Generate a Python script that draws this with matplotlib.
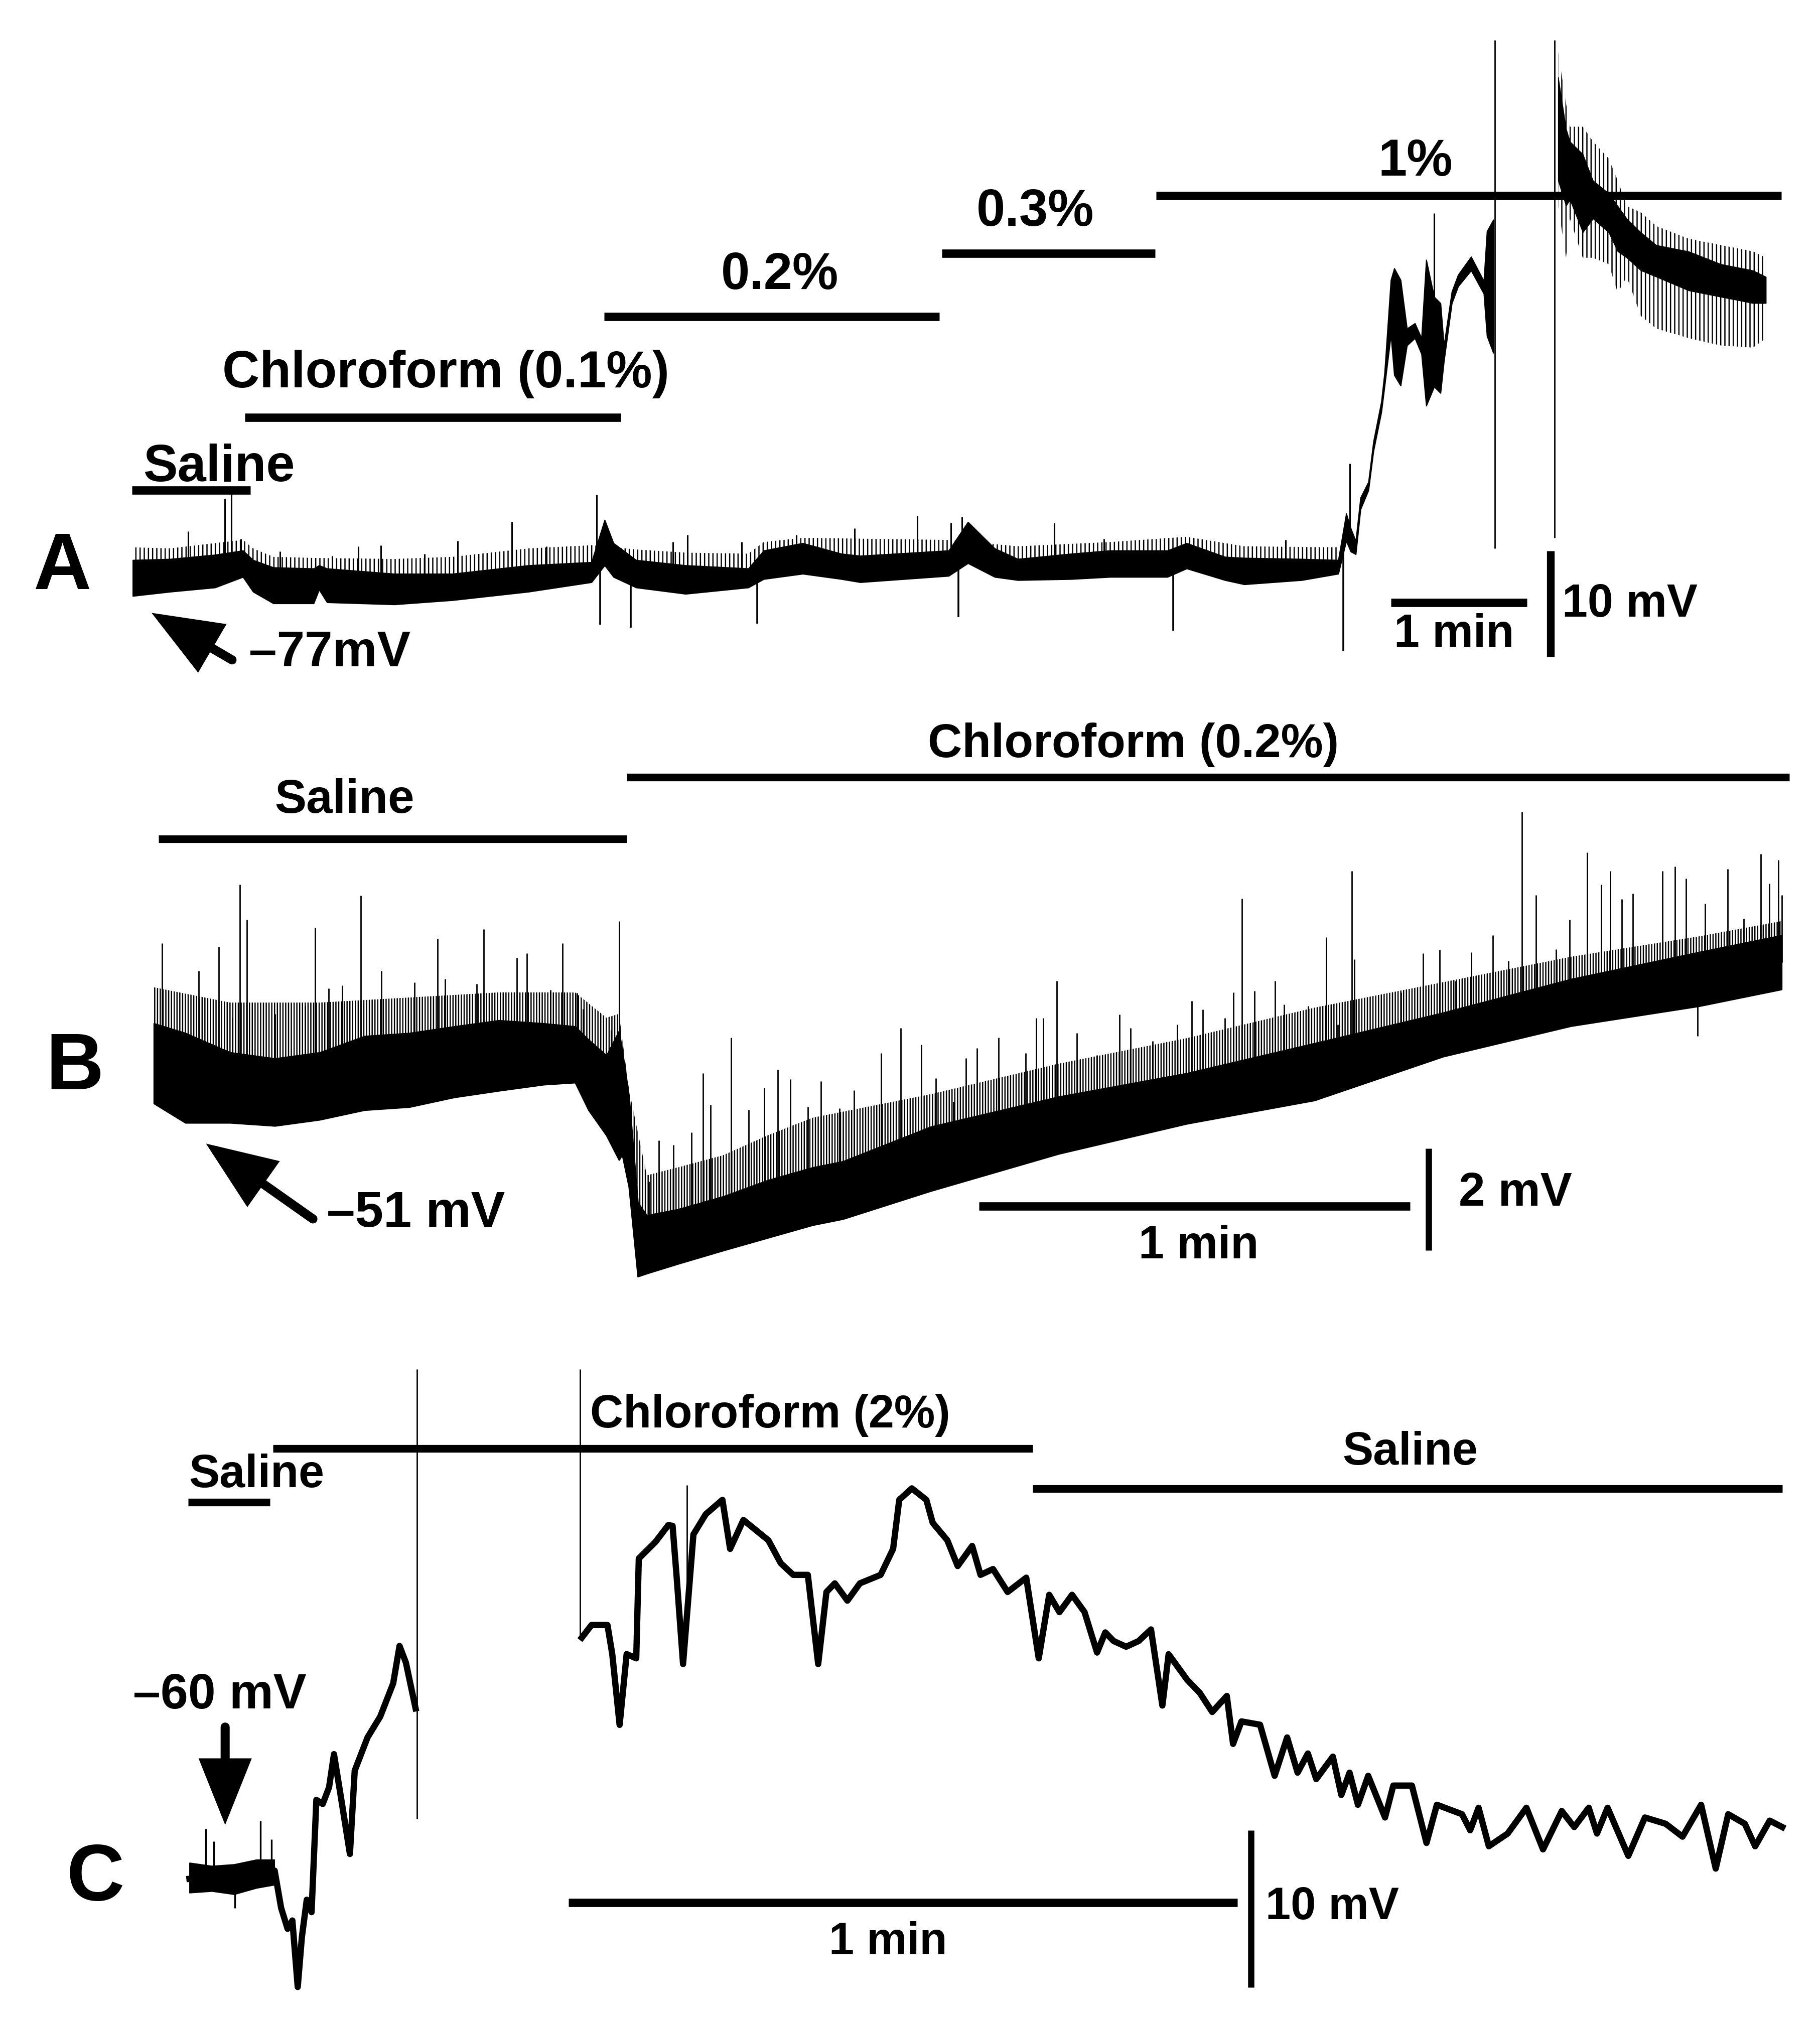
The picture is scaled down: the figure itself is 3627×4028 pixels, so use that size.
import numpy as np
import matplotlib
matplotlib.use("Agg")
import matplotlib.pyplot as plt

plt.rcParams['font.family'] = ['Liberation Sans', 'DejaVu Sans']
plt.rcParams['font.weight'] = 'bold'
plt.rcParams['hatch.linewidth'] = 1.8
plt.rcParams['hatch.color'] = 'black'

# ============================ DATA ============================
# ---- Panel A : time (s) / membrane potential (mV) ----
A_t = [0, 16.5, 36.3, 48.6, 53.1, 62.0, 79.8, 82.2, 85.7, 115.4, 141.0, 174.6, 202.4, 208.2, 212.1,
       222.1, 243.9, 271.6, 278.4, 295.6, 312.6, 321.0, 360.0, 368.5, 380.3, 390.5, 414.2, 431.1,
       456.5, 465.0, 481.9, 490.4, 515.8, 531.9, 535.4, 537.4, 539.6, 541.7, 545.2, 547.4, 550.9,
       552.3, 555.1, 556.6, 559.4, 562.2, 565.7, 568.6, 570.7, 574.2, 577.0, 578.5, 582.0, 584.8,
       590.5, 596.1, 597.5, 600.3]
A_hi = [-74.5, -74.4, -74.0, -73.6, -74.5, -75.2, -75.3, -75.0, -75.3, -75.8, -75.8, -75.0, -74.7,
        -70.7, -72.9, -74.5, -75.0, -75.3, -73.6, -72.9, -73.9, -74.1, -73.6, -70.9, -73.4, -74.4,
        -73.9, -73.6, -73.6, -72.9, -74.2, -74.3, -74.4, -74.5, -70.1, -71.5, -72.7, -68.6, -67.1,
        -63.3, -59.5, -56.8, -48.0, -46.9, -48.0, -52.6, -52.1, -53.5, -46.1, -49.6, -50.2, -54.2,
        -49.1, -47.5, -45.8, -48.1, -43.4, -42.3]
A_lo = [-77.9, -77.5, -77.1, -76.1, -77.5, -78.6, -78.6, -77.3, -78.5, -78.7, -78.3, -77.5, -76.6,
        -75.0, -76.1, -77.1, -77.7, -77.1, -76.3, -75.8, -76.3, -76.6, -76.0, -74.8, -76.1, -76.4,
        -76.3, -76.1, -76.1, -75.3, -76.4, -76.8, -76.4, -75.8, -72.7, -73.7, -73.95, -69.7, -67.9,
        -64.2, -60.5, -58.1, -53.2, -57.0, -58.0, -54.2, -53.5, -55.0, -59.9, -58.1, -58.7, -55.7,
        -50.2, -48.6, -47.1, -49.3, -53.3, -54.9]
# top of the dense small-event "grass" above the baseline band
A_fuzz_t = [0, 16.5, 36.3, 48.6, 53.1, 62.0, 79.8, 115.4, 141.0, 174.6, 202.4, 222.1, 243.9, 271.6,
            278.4, 295.6, 360.0, 390.5, 431.1, 465.0, 490.4, 531.9]
A_fuzz = [-73.3, -73.4, -72.9, -72.6, -73.4, -74.2, -74.3, -74.4, -74.2, -73.4, -73.1, -73.5, -73.8,
          -73.9, -72.8, -72.4, -72.6, -73.2, -72.8, -72.3, -73.2, -73.3]
# oscillating segment after the gap
A2_t = [628.9, 632.4, 634.1, 639.8, 644.3, 651.2, 655.2, 659.2, 665.4, 672.2, 686.5, 700.7, 714.9, 720.6]
A2_osc_hi = [-26.4, -31.3, -33.5, -33.5, -34.9, -36.5, -38.6, -41.0, -41.6, -42.9, -44.1, -44.7, -45.3, -45.9]
A2_osc_lo = [-41.0, -45.9, -42.2, -45.9, -45.9, -46.5, -49.2, -47.7, -51.4, -52.6, -53.5, -54.2, -54.4, -53.5]
A2_core_hi = [-28.8, -33.7, -34.9, -36.1, -38.6, -39.8, -41.0, -42.2, -43.5, -44.7, -45.3, -46.5, -47.1, -47.7]
A2_core_lo = [-38.6, -41.0, -40.4, -43.5, -42.2, -43.5, -45.3, -45.9, -47.1, -47.7, -49.0, -49.6, -50.2, -50.2]
# individual events
A_spk_t = [24.5, 40.7, 43.4, 47.8, 64.9, 88.1, 99.5, 109.4, 128.8, 143.4, 167.2, 182.6, 204.7, 238.3,
           244.8, 268.6, 292.7, 318.5, 346.1, 360.9, 365.9, 406.6, 428.6, 508.7, 537.0, 574.2]
A_spk_v = [-71.8, -68.7, -68.2, -72.5, -73.7, -74.1, -73.2, -73.1, -73.9, -72.7, -70.9, -73.2, -68.3,
           -72.8, -72.1, -72.8, -72.1, -71.5, -70.3, -71.0, -70.4, -71.0, -72.5, -72.6, -65.4, -41.7]
A_dip_t = [206.3, 219.8, 275.5, 364.2, 459.1, 534.1]
A_dip_v = [-80.6, -80.9, -80.5, -79.9, -81.2, -83.1]
A_art_t = [601.0, 627.4]
A_art_top = [-25.3, -25.3]
A_art_bot = [-73.4, -72.4]
A_sol_labels = ["Saline", "Chloroform (0.1%)", "0.2%", "0.3%", "1%"]
A_sol_start = [-0.3, 49.5, 208.0, 356.9, 451.6]
A_sol_end = [51.8, 215.3, 355.9, 451.0, 727.4]

# ---- Panel B ----
B_t = [0, 4.38, 10.6, 16.84, 23.07, 29.31, 35.55, 41.78, 48.02, 54.24, 58.62, 60.48, 62.98, 64.72,
       65.17, 66.1, 67.34, 68.59, 72.95, 79.19, 85.42, 91.66, 95.89, 108.1, 125.9, 143.7, 161.5,
       179.4, 197.2, 215.0, 226.5]
B_hi = [-49.71, -49.90, -50.28, -50.40, -50.28, -49.96, -49.90, -49.77, -49.65, -49.71, -49.77,
        -50.03, -50.34, -49.86, -50.24, -51.13, -53.23, -53.48, -53.36, -53.11, -52.79, -52.54,
        -52.42, -51.74, -51.15, -50.69, -50.10, -49.50, -48.84, -48.31, -47.98]
B_lo = [-51.28, -51.66, -51.66, -51.72, -51.60, -51.41, -51.35, -51.16, -51.03, -50.91, -50.87,
        -51.41, -51.91, -52.39, -52.29, -52.92, -54.68, -54.62, -54.43, -54.17, -53.92, -53.67,
        -53.55, -53.00, -52.27, -51.68, -51.22, -50.36, -49.76, -49.37, -49.04]
B_fuzz_t = [0, 10.6, 23.1, 35.6, 48.0, 58.6, 63.0, 64.7, 66.1, 68.6, 79.2, 90.3, 108.1, 125.9, 143.7,
            161.5, 179.4, 197.2, 215.0, 226.5]
B_fuzz = [-49.0, -49.3, -49.3, -49.2, -49.1, -49.1, -49.6, -49.5, -51.0, -52.7, -52.3, -51.6, -51.1,
          -50.5, -50.0, -49.4, -48.9, -48.4, -48.0, -47.7]
B_spk_t = [1.13, 6.24, 9.04, 10.92, 11.98, 12.97, 16.84, 21.02, 22.46, 24.32, 26.19, 28.81, 31.62,
           36.29, 39.48, 40.54, 44.90, 45.90, 50.51, 51.87, 55.19, 56.86, 58.92, 59.73, 63.61, 64.72,
           66.73, 68.90, 70.28, 72.32, 74.83, 76.38, 77.45, 80.30, 82.74, 84.91, 86.85, 88.54, 91.03,
           92.79, 95.41, 97.42, 101.17, 103.93, 106.78, 108.83, 111.23, 113.00, 114.51, 117.54,
           121.29, 122.80, 123.78, 125.65, 128.41, 131.26, 134.39, 135.89, 139.01, 142.40, 144.45,
           145.96, 149.07, 150.24, 151.39, 153.17, 156.02, 157.27, 160.65, 163.14, 164.75, 166.71,
           167.07, 173.56, 176.59, 178.91, 181.13, 183.35, 186.30, 188.52, 190.40, 192.36, 195.12,
           196.99, 199.48, 201.43, 202.69, 204.29, 205.81, 209.90, 211.68, 213.20, 215.87, 218.98,
           221.22, 223.61, 224.77, 226.03, 226.55]
B_spk_v = [-48.14, -48.68, -48.20, -49.59, -46.98, -47.67, -49.52, -49.37, -47.83, -49.02, -48.96,
           -47.20, -48.68, -48.90, -48.05, -48.83, -48.93, -47.86, -48.42, -48.33, -49.05, -48.14,
           -49.11, -49.43, -49.84, -47.70, -52.42, -52.82, -52.01, -52.10, -51.85, -50.69, -51.31,
           -49.99, -51.41, -50.97, -50.62, -50.81, -51.35, -50.85, -51.38, -51.02, -50.29, -49.80,
           -50.13, -50.79, -51.25, -50.39, -50.19, -49.99, -50.29, -49.60, -49.60, -48.87, -49.90,
           -50.33, -49.53, -49.80, -50.06, -49.73, -49.27, -49.44, -49.60, -49.10, -47.26, -49.07,
           -48.87, -49.34, -49.37, -48.02, -49.73, -46.72, -48.45, -49.10, -48.33, -48.26, -48.87,
           -48.31, -47.98, -48.48, -45.55, -47.19, -48.25, -47.67, -46.35, -46.98, -46.72, -47.27,
           -47.16, -46.72, -46.63, -46.86, -47.36, -46.68, -47.65, -46.38, -46.96, -46.50, -47.19]
B_dip_t = [214.80]
B_dip_v = [-49.96]
B_sol_labels = ["Saline", "Chloroform (0.2%)"]
B_sol_start = [0.65, 65.8]
B_sol_end = [65.83, 227.6]

# ---- Panel C ----
C1_t = [0.0, 1.62, 3.05, 4.49, 6.21, 7.64, 8.22, 8.80, 9.23, 9.71, 10.08, 10.52, 10.95, 11.38, 11.95,
        12.52, 12.96, 13.68, 14.39, 14.82, 15.97, 17.11, 18.27, 18.84, 19.41, 20.28]
C1_v = [-60.22, -60.09, -60.35, -59.96, -59.70, -59.70, -62.07, -63.40, -62.87, -67.10, -63.93,
        -61.55, -62.34, -55.20, -55.46, -54.40, -52.29, -55.46, -58.64, -53.34, -51.23, -49.90,
        -47.79, -45.41, -46.47, -49.38]
C_noise_t = [0.0, 2.0, 4.0, 6.0, 7.6]
C_noise_hi = [-59.2, -59.4, -59.3, -59.0, -59.0]
C_noise_lo = [-61.1, -61.0, -61.2, -60.8, -60.6]
C_noise_spk_t = [1.48, 2.2, 4.06, 6.36, 7.36]
C_noise_spk_v = [-57.05, -57.84, -62.07, -56.52, -57.7]
C2_t = [35.19, 36.06, 37.49, 37.92, 38.58, 39.21, 40.07, 40.30, 41.79, 42.94, 43.33, 43.70, 44.27,
        45.20, 46.31, 47.80, 48.49, 49.68, 51.92, 53.03, 54.15, 55.46, 56.39, 57.13, 57.88, 59.01,
        60.13, 61.99, 63.11, 63.66, 64.79, 66.09, 66.66, 67.97, 68.90, 70.20, 70.95, 72.07, 73.38,
        75.05, 76.17, 77.11, 78.03, 79.16, 80.28, 81.40, 82.14, 82.89, 84.01, 85.13, 86.24, 87.26,
        87.82, 89.49, 90.61, 91.73, 93.04, 93.60, 94.35, 96.02, 97.33, 98.45, 99.39, 100.31,
        101.06, 102.55, 103.31, 104.05, 104.80, 105.72, 107.23, 107.97, 109.64, 110.95, 111.88,
        114.13, 114.87, 115.62, 116.54, 118.23, 119.91, 121.40, 123.08, 124.20, 125.50, 126.24,
        127.19, 129.05, 130.54, 132.40, 133.91, 135.58, 136.89, 138.01, 139.50, 140.43, 141.73,
        142.86]
C2_v = [-44.88, -44.08, -44.08, -45.93, -50.43, -45.93, -46.20, -39.85, -38.80, -37.73, -37.77,
        -41.07, -46.56, -38.32, -37.03, -36.12, -39.24, -37.40, -38.69, -40.15, -40.89, -40.89,
        -46.56, -41.98, -41.43, -42.53, -41.43, -40.89, -39.24, -36.12, -35.39, -36.12, -37.58,
        -38.69, -40.33, -39.05, -40.89, -40.52, -41.98, -41.07, -46.20, -42.16, -43.26, -42.16,
        -43.26, -45.83, -44.55, -45.10, -45.46, -45.10, -44.36, -49.20, -45.94, -47.57, -48.39,
        -49.61, -48.59, -51.64, -50.21, -50.42, -53.67, -51.23, -53.47, -52.25, -53.88, -52.45,
        -54.89, -53.47, -55.51, -53.67, -56.32, -54.29, -54.29, -57.94, -55.51, -56.11, -57.13,
        -55.70, -58.15, -57.34, -55.70, -58.35, -55.91, -56.93, -55.70, -57.34, -55.70, -58.76,
        -56.32, -56.72, -57.54, -55.51, -59.57, -56.11, -56.72, -58.15, -56.52, -56.93]
C_spk_t = [44.64]
C_spk_v = [-35.20]
C_art_t = [20.42, 35.05]
C_art_top = [-27.81, -27.81]
C_art_bot = [-56.39, -44.88]
C_sol_labels = ["Saline", "Chloroform (2%)", "Saline"]
C_sol_start = [-0.1, 7.50, 75.61]
C_sol_end = [7.2, 75.61, 142.86]

# ============================ LAYOUT ============================
W_PX, H_PX = 1412.0, 1568.0
fig = plt.figure(figsize=(36.27, 40.28), dpi=100)


def panel_axes(x0_px, px_per_s, y0_px, v0, px_per_mv):
    ax = fig.add_axes([0, 0, 1, 1], facecolor='none')
    ax.set_xlim((0 - x0_px) / px_per_s, (W_PX - x0_px) / px_per_s)
    ax.set_ylim(v0 + (y0_px - H_PX) / px_per_mv, v0 + y0_px / px_per_mv)
    ax.axis('off')
    return ax


def bars(ax, starts, ends, level, lw):
    ax.hlines([level] * len(starts), starts, ends, colors='k', lw=lw, capstyle='butt')


def arrow(ax, head, tail, lw, ms):
    ax.annotate('', xy=head, xytext=tail,
                arrowprops=dict(arrowstyle='-|>,head_length=0.55,head_width=0.22', lw=lw,
                                color='k', mutation_scale=ms, shrinkA=0, shrinkB=0,
                                joinstyle='miter'))


def grass(ax, t, hi, fuzz_t, fuzz, hatch):
    t = np.asarray(t)
    sel = t <= max(fuzz_t)
    top = np.interp(t[sel], fuzz_t, fuzz)
    ax.fill_between(t[sel], np.asarray(hi)[sel], top, facecolor='none', edgecolor='k',
                    hatch=hatch, lw=0)

K = 'black'

# ---------------- Panel A ----------------
axA = panel_axes(103, 105.5 / 60, 455, -77, 8.2)
tA = np.array(A_t); hiA = np.array(A_hi); loA = np.array(A_lo)
grass(axA, tA, hiA, A_fuzz_t, A_fuzz, '||')
axA.fill_between(tA, loA, hiA, color=K, lw=1.5)
midA = (hiA + loA) / 2
axA.vlines(A_spk_t, np.interp(A_spk_t, tA, midA), A_spk_v, color=K, lw=2.2)
axA.vlines(A_dip_t, np.interp(A_dip_t, tA, midA), A_dip_v, color=K, lw=2.6)
axA.vlines(A_art_t, A_art_bot, A_art_top, color=K, lw=2.0)
axA.fill_between(A2_t, A2_osc_lo, A2_osc_hi, facecolor='none', edgecolor=K, hatch='||', lw=0)
axA.fill_between(A2_t, A2_core_lo, A2_core_hi, color=K, lw=1.0)
bars(axA, A_sol_start[:1], A_sol_end[:1], -67.88, 12)
bars(axA, A_sol_start[1:2], A_sol_end[1:2], -61.0, 12)
bars(axA, A_sol_start[2:3], A_sol_end[2:3], -51.49, 12)
bars(axA, A_sol_start[3:4], A_sol_end[3:4], -45.48, 12)
bars(axA, A_sol_start[4:5], A_sol_end[4:5], -40.05, 12)
for lab, tx, vy in zip(A_sol_labels, [38.1, 138.2, 285.5, 398.1, 565.9],
                       [-65.78, -56.88, -47.61, -41.63, -36.88]):
    axA.text(tx, vy, lab, ha='center', va='center', fontsize=74, fontweight='bold')
axA.hlines(-78.52, 555.1, 615.1, color=K, lw=12, capstyle='butt')
axA.vlines(625.6, -83.65, -73.65, color=K, lw=11, capstyle='butt')
axA.text(583.0, -81.57, '1 min', ha='center', va='center', fontsize=66, fontweight='bold')
axA.text(630.7, -78.71, '10 mV', ha='left', va='center', fontsize=66, fontweight='bold')
arrow(axA, (8.3, -79.5), (43.8, -83.95), 13, 140)
axA.text(51.2, -83.34, '\u201377mV', ha='left', va='center', fontsize=72, fontweight='bold')

# ---------------- Panel B ----------------
axB = panel_axes(119.4, 334.5 / 60, 845, -51, 39.5)
tB = np.array(B_t); hiB = np.array(B_hi); loB = np.array(B_lo)
grass(axB, tB, hiB, B_fuzz_t, B_fuzz, '|||')
axB.fill_between(tB, loB, hiB, color=K, lw=2.0)
midB = (hiB + loB) / 2
axB.vlines(B_spk_t, np.interp(B_spk_t, tB, midB), B_spk_v, color=K, lw=2.0)
axB.vlines(B_dip_t, np.interp(B_dip_t, tB, midB), B_dip_v, color=K, lw=2.0)
bars(axB, B_sol_start[:1], B_sol_end[:1], -46.09, 11)
bars(axB, B_sol_start[1:], B_sol_end[1:], -44.87, 11)
axB.text(26.5, -45.33, B_sol_labels[0], ha='center', va='center', fontsize=68, fontweight='bold')
axB.text(136.3, -44.24, B_sol_labels[1], ha='center', va='center', fontsize=68, fontweight='bold')
axB.hlines(-53.30, 114.8, 174.8, color=K, lw=12, capstyle='butt')
axB.vlines(177.4, -54.17, -52.17, color=K, lw=9, capstyle='butt')
axB.text(145.4, -54.09, '1 min', ha='center', va='center', fontsize=66, fontweight='bold')
axB.text(181.6, -53.05, '2 mV', ha='left', va='center', fontsize=68, fontweight='bold')
arrow(axB, (7.25, -52.07), (22.13, -53.55), 13, 140)
axB.text(24.02, -53.45, '\u201351 mV', ha='left', va='center', fontsize=73, fontweight='bold')

# ---------------- Panel C ----------------
axC = panel_axes(147, 519 / 60, 1455, -60, 12.2)
axC.fill_between(C_noise_t, C_noise_lo, C_noise_hi, color=K, lw=1.5)
axC.vlines(C_noise_spk_t, np.interp(C_noise_spk_t, C1_t, C1_v), C_noise_spk_v, color=K, lw=2.4)
axC.plot(C1_t, C1_v, color=K, lw=9, solid_joinstyle='round')
axC.plot(C2_t, C2_v, color=K, lw=9, solid_joinstyle='round')
axC.vlines(C_spk_t, np.interp(C_spk_t, C2_t, C2_v), C_spk_v, color=K, lw=2.0)
axC.vlines(C_art_t, C_art_bot, C_art_top, color=K, lw=2.0)
bars(axC, C_sol_start[:1], C_sol_end[:1], -36.28, 11)
bars(axC, C_sol_start[1:2], C_sol_end[1:2], -32.84, 11)
bars(axC, C_sol_start[2:3], C_sol_end[2:3], -35.42, 11)
for lab, tx, vy in zip(C_sol_labels, [6.0, 52.1, 109.5], [-34.56, -30.74, -33.12]):
    axC.text(tx, vy, lab, ha='center', va='center', fontsize=66, fontweight='bold')
axC.hlines(-61.72, 33.99, 93.99, color=K, lw=12, capstyle='butt')
axC.vlines(95.19, -67.13, -57.13, color=K, lw=9, capstyle='butt')
axC.text(62.66, -64.26, '1 min', ha='center', va='center', fontsize=65, fontweight='bold')
axC.text(96.53, -62.05, '10 mV', ha='left', va='center', fontsize=65, fontweight='bold')
arrow(axC, (3.2, -56.79), (3.2, -50.57), 13, 130)
axC.text(-5.09, -48.58, '\u201360 mV', ha='left', va='center', fontsize=71, fontweight='bold')

for lab, fx, fy in [('A', 48, 441), ('B', 58, 829), ('C', 74, 1458)]:
    fig.text(fx / W_PX, 1 - fy / H_PX, lab, ha='center', va='center', fontsize=115,
             fontweight='bold')

fig.savefig('out.png', dpi=100, facecolor='white')
